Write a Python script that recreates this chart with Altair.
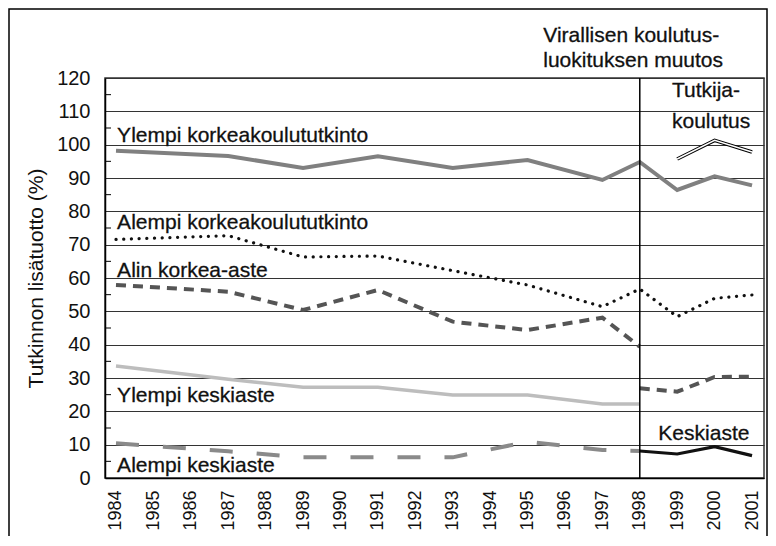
import altair as alt
import pandas as pd

FONT = "Liberation Sans, Arial, Helvetica, sans-serif"

years_tick = list(range(1984, 2002))
y_major = list(range(0, 121, 10))
y_minor = list(range(5, 120, 10))

# Series (year, value)
ylempi_kk_years = [1984, 1987, 1989, 1991, 1993, 1995, 1997, 1998, 1999, 2000, 2001]
ylempi_kk_vals = [98.2, 96.6, 93.0, 96.5, 93.0, 95.4, 89.4, 94.8, 86.4, 90.5, 87.8]

tutkija_years = [1999, 2000, 2001]
tutkija_vals = [95.7, 101.3, 97.8]

alempi_kk_years = [1984, 1987, 1989, 1991, 1993, 1995, 1997, 1998, 1999, 2000, 2001]
alempi_kk_vals = [71.6, 72.7, 66.3, 66.6, 62.2, 57.9, 51.4, 56.7, 48.4, 53.9, 54.9]

alin_years_a = [1984, 1987, 1989, 1991, 1993, 1995, 1997, 1998]
alin_vals_a = [57.9, 55.9, 50.4, 56.4, 46.9, 44.4, 48.1, 39.4]
alin_years_b = [1998, 1999, 2000, 2001]
alin_vals_b = [26.9, 25.9, 30.3, 30.4]

ylempi_ka_years = [1984, 1987, 1989, 1991, 1993, 1995, 1997, 1998]
ylempi_ka_vals = [33.6, 29.6, 27.2, 27.2, 24.9, 24.9, 22.2, 22.2]

alempi_ka_years = [1984, 1987, 1989, 1991, 1993, 1995, 1997, 1998]
alempi_ka_vals = [10.4, 8.0, 6.2, 6.2, 6.2, 10.9, 8.4, 8.1]

keski_years = [1998, 1999, 2000, 2001]
keski_vals = [8.1, 7.2, 9.4, 6.7]

break_year = [1998]

# Annotations: text, x (year), y (value)
ann_left_text = ["Ylempi korkeakoulututkinto", "Alempi korkeakoulututkinto", "Alin korkea-aste",
                 "Ylempi keskiaste", "Alempi keskiaste", "Tutkija-", "koulutus",
                 "Virallisen koulutus-", "luokituksen muutos"]
ann_left_x = [1984.03, 1984.03, 1984.03, 1984.03, 1984.03, 1998.86, 1998.86, 1995.42, 1995.42]
ann_left_y = [100.9, 74.7, 60.4, 22.9, 1.9, 114.4, 104.9, 130.9, 123.4]
ann_right_text = ["Keskiaste"]
ann_right_x = [2000.93]
ann_right_y = [11.4]

W, H = 659, 400
xscale = alt.Scale(domain=[1983.706, 2001.32], nice=False, zero=False)
yscale = alt.Scale(domain=[0, 120], nice=False)


def df(xs, ys, seg=None):
    d = pd.DataFrame({"year": xs, "value": ys})
    if seg is not None:
        d["seg"] = seg
    return d


x_axis = alt.Axis(
    values=years_tick, format="d", labelAngle=-90, labelAlign="right", labelBaseline="middle",
    labelFontSize=18, labelPadding=12, ticks=False, grid=False, title=None,
    domainColor="#000", domainWidth=1.5, labelColor="#111", labelFont=FONT, labelOverlap=False)
y_axis = alt.Axis(
    values=y_major, labelFontSize=20, labelPadding=15, ticks=False, grid=True,
    gridColor="#333", gridWidth=1, domainColor="#000", domainWidth=1.5,
    title="Tutkinnon lisätuotto (%)", titleFontSize=21, titleFontWeight="normal",
    titlePadding=10, titleColor="#111", labelColor="#111", labelFont=FONT, titleFont=FONT)

Xn = alt.X("year:Q", scale=xscale, axis=x_axis)
Yn = alt.Y("value:Q", scale=yscale, axis=y_axis)

minor = alt.Chart(pd.DataFrame({"value": y_minor})).mark_rule(color="#000", strokeWidth=1).encode(
    x=alt.value(0), x2=alt.value(6), y=Yn)

vline = alt.Chart(pd.DataFrame({"year": break_year})).mark_rule(color="#000", strokeWidth=1.5).encode(x=Xn)

l_ylkk = alt.Chart(df(ylempi_kk_years, ylempi_kk_vals)).mark_line(
    color="#808080", strokeWidth=4).encode(x=Xn, y=Yn)
l_tutk_outer = alt.Chart(df(tutkija_years, tutkija_vals)).mark_line(
    color="#000", strokeWidth=3.6).encode(x=Xn, y=Yn)
l_tutk_inner = alt.Chart(df(tutkija_years, tutkija_vals)).mark_line(
    color="#fff", strokeWidth=1.4).encode(x=Xn, y=Yn)
l_alkk = alt.Chart(df(alempi_kk_years, alempi_kk_vals)).mark_line(
    color="#111", strokeWidth=3.2, strokeDash=[0.1, 7.6], strokeCap="round").encode(x=Xn, y=Yn)
alin_df = pd.concat([df(alin_years_a, alin_vals_a, "a"), df(alin_years_b, alin_vals_b, "b")])
l_alin = alt.Chart(alin_df).mark_line(
    color="#555", strokeWidth=4, strokeDash=[10, 7]).encode(x=Xn, y=Yn, detail="seg:N")
l_ylka = alt.Chart(df(ylempi_ka_years, ylempi_ka_vals)).mark_line(
    color="#bdbdbd", strokeWidth=3.5).encode(x=Xn, y=Yn)
l_alka = alt.Chart(df(alempi_ka_years, alempi_ka_vals)).mark_line(
    color="#8a8a8a", strokeWidth=4, strokeDash=[23, 24]).encode(x=Xn, y=Yn)
l_keski = alt.Chart(df(keski_years, keski_vals)).mark_line(
    color="#111", strokeWidth=3.2).encode(x=Xn, y=Yn)

t_left = alt.Chart(pd.DataFrame({"t": ann_left_text, "year": ann_left_x, "value": ann_left_y})).mark_text(
    align="left", baseline="alphabetic", fontSize=21, font=FONT, color="#111",
    stroke="#111", strokeWidth=0.3).encode(x=Xn, y=Yn, text="t:N")
t_right = alt.Chart(pd.DataFrame({"t": ann_right_text, "year": ann_right_x, "value": ann_right_y})).mark_text(
    align="right", baseline="alphabetic", fontSize=21, font=FONT, color="#111",
    stroke="#111", strokeWidth=0.3).encode(x=Xn, y=Yn, text="t:N")

frame = alt.Chart(pd.DataFrame({"a": [0]})).mark_rect(
    filled=False, stroke="#000", strokeWidth=1.5).encode(
    x=alt.value(-96), x2=alt.value(662), y=alt.value(-69), y2=alt.value(470))

chart = alt.layer(
    minor, l_ylkk, l_tutk_outer, l_tutk_inner, l_alkk, l_alin, l_ylka, l_alka, l_keski,
    vline, t_left, t_right, frame
).properties(
    width=W, height=H,
    background="white",
    autosize=alt.AutoSizeParams(type="none"),
    padding={"left": 97, "top": 70, "right": 4, "bottom": 58},
).configure_view(stroke="#333", strokeWidth=1.5)

chart.save("out.html", embed_options={"renderer": "svg", "actions": False})
